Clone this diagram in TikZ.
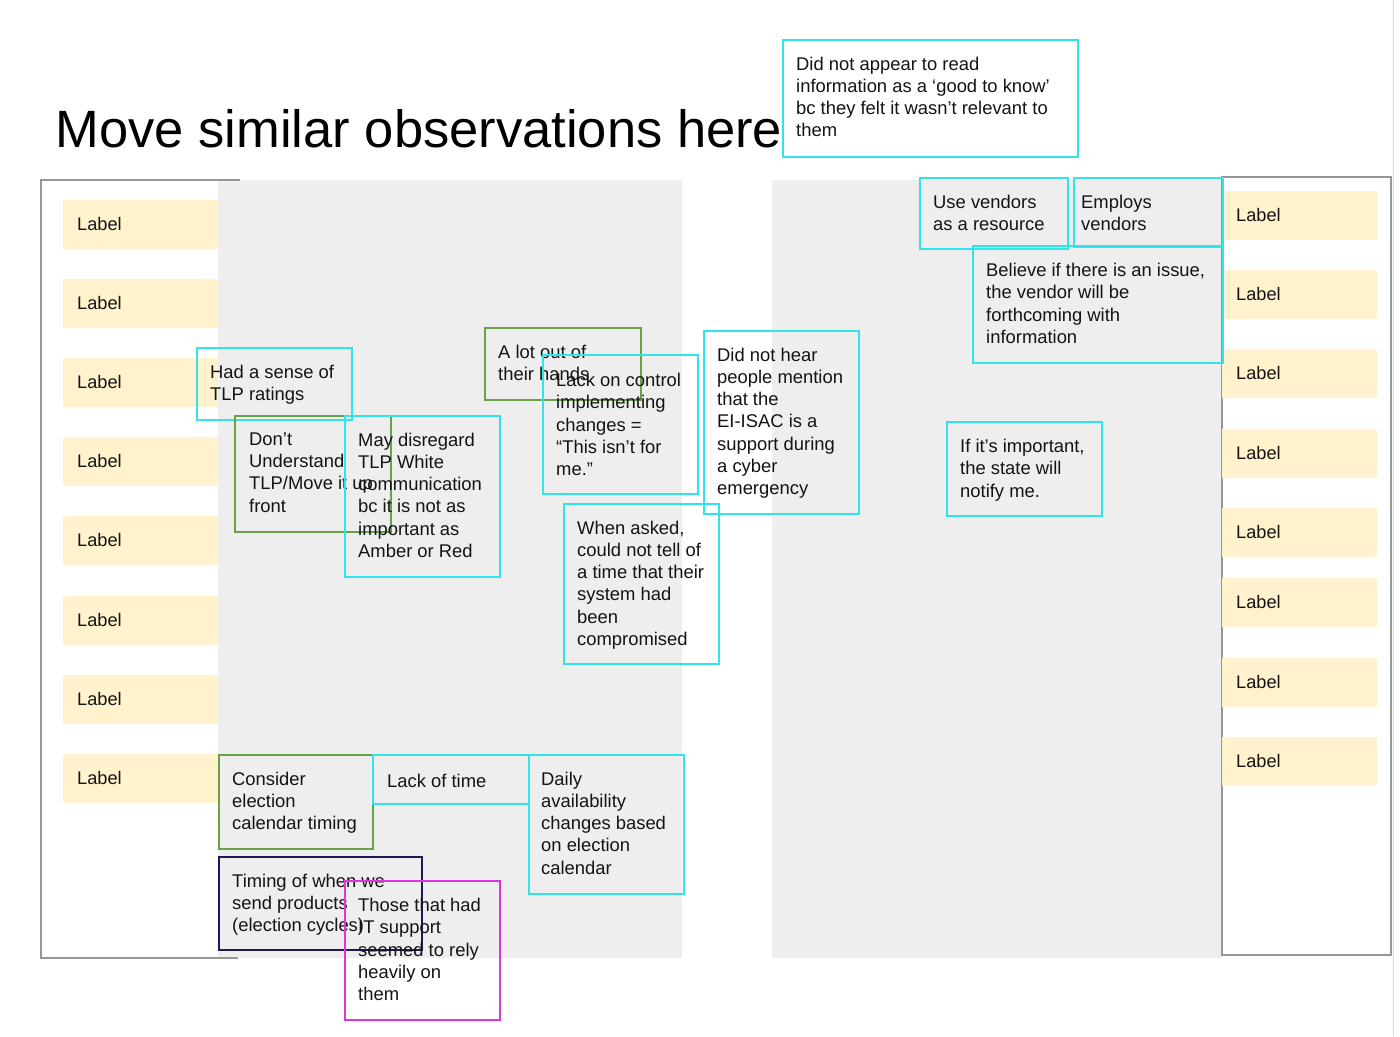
\documentclass[tikz,border=0pt]{standalone}
\usepackage{fontspec}
\setmainfont{Liberation Sans}
\usetikzlibrary{calc}
\definecolor{cyanc}{RGB}{48,228,234}
\definecolor{greenc}{RGB}{106,160,72}
\definecolor{navyc}{RGB}{36,22,84}
\definecolor{magc}{RGB}{222,52,222}
\definecolor{labelc}{RGB}{255,242,204}
\definecolor{panelc}{RGB}{238,238,238}
\definecolor{framec}{RGB}{150,150,150}
\definecolor{edgec}{RGB}{215,215,215}
\definecolor{textc}{RGB}{20,20,20}
\begin{document}
\begin{tikzpicture}[x=1pt,y=-1pt,
  panel/.style={fill=panelc, draw=none},
  framebox/.style={draw=framec, line width=1.5pt},
  notebox/.style={draw, line width=2pt, inner sep=0pt, anchor=north west},
  notetext/.style={anchor=north west, inner sep=0pt, align=left,
    font=\fontsize{18.4}{22.3}\selectfont, text=textc, execute at begin node=\strut},
  lbl/.style={fill=labelc, anchor=north west, minimum width=155pt, minimum height=49pt,
    inner xsep=14pt, inner ysep=0pt, text width=127pt, align=left,
    font=\fontsize{18.2}{22}\selectfont, text=textc}]
\useasboundingbox[fill=white] (0,0) rectangle (1400,1036);

% page edge
\draw[edgec, line width=1.5pt] (1393.5,0) -- (1393.5,1036);

% gray panels
\fill[panel] (218,180) rectangle (682,958);
\fill[panel] (772,180) rectangle (1222,958);

% frames
\draw[framebox] (240,180) -- (41,180) -- (41,958) -- (238,958);
\draw[framebox] (1222,177) rectangle (1391,955);

% title
\node[anchor=base west, inner sep=0pt, font=\fontsize{52.5}{60}\selectfont, text=black] (title) at (55.5,147) {Move similar observations here};

% left labels
\node[lbl] (L1) at (63,199.5) {Label};
\node[lbl] (L2) at (63,278.5) {Label};
\node[lbl] (L3) at (63,357.5) {Label};
\node[lbl] (L4) at (63,436.5) {Label};
\node[lbl] (L5) at (63,515.5) {Label};
\node[lbl] (L6) at (63,595.5) {Label};
\node[lbl] (L7) at (63,674.5) {Label};
\node[lbl] (L8) at (63,753.5) {Label};

% right labels
\node[lbl] (R1) at (1222,190.5) {Label};
\node[lbl] (R2) at (1222,269.5) {Label};
\node[lbl] (R3) at (1222,348.5) {Label};
\node[lbl] (R4) at (1222,428.5) {Label};
\node[lbl] (R5) at (1222,507.5) {Label};
\node[lbl] (R6) at (1222,577.5) {Label};
\node[lbl] (R7) at (1222,657.5) {Label};
\node[lbl] (R8) at (1222,736.5) {Label};

% sticky notes
\node[notebox, draw=cyanc, minimum width=295pt, minimum height=117pt] (dna) at (782,39) {};
\node[notetext] (dnat) at ($(dna.north west)+(14,17.5)$) {Did not appear to read\\information as a ‘good to know’\\bc they felt it wasn’t relevant to\\them};

\node[notebox, draw=cyanc, minimum width=148pt, minimum height=71pt] (usev) at (919,177) {};
\node[notetext] (usevt) at ($(usev.north west)+(14,17.5)$) {Use vendors\\as a resource};

\node[notebox, draw=cyanc, minimum width=149pt, minimum height=69pt] (empv) at (1073,177) {};
\node[notetext] (empvt) at ($(empv.north west)+(8,17.5)$) {Employs\\vendors};

\node[notebox, draw=cyanc, minimum width=250pt, minimum height=117pt] (bel) at (972,245) {};
\node[notetext] (belt) at ($(bel.north west)+(14,18)$) {Believe if there is an issue,\\the vendor will be\\forthcoming with\\information};

\node[notebox, draw=cyanc, minimum width=155pt, minimum height=183pt] (hear) at (703,330) {};
\node[notetext] (heart) at ($(hear.north west)+(14,17.5)$) {Did not hear\\people mention\\that the\\EI-ISAC is a\\support during\\a cyber\\emergency};

\node[notebox, draw=cyanc, minimum width=155pt, minimum height=94pt] (state) at (946,421) {};
\node[notetext] (statet) at ($(state.north west)+(14,18)$) {If it’s important,\\the state will\\notify me.};

\node[notebox, draw=cyanc, minimum width=155pt, minimum height=72pt] (sense) at (196,347) {};
\node[notetext] (senset) at ($(sense.north west)+(14,18)$) {Had a sense of\\TLP ratings};

\node[notebox, draw=greenc, minimum width=156pt, minimum height=116pt] (dont) at (234,415) {};
\node[notetext] (dontt) at ($(dont.north west)+(15,17.5)$) {Don’t\\Understand\\TLP/Move it up\\front};

\node[notebox, draw=cyanc, minimum width=155pt, minimum height=161pt] (may) at (344,415) {};
\node[notetext] (mayt) at ($(may.north west)+(14,17.5)$) {May disregard\\TLP White\\communication\\bc it is not as\\important as\\Amber or Red};

\node[notebox, draw=greenc, minimum width=156pt, minimum height=72pt] (lot) at (484,327) {};
\node[notetext] (lott) at ($(lot.north west)+(14,18)$) {A lot out of\\their hands};

\node[notebox, draw=cyanc, minimum width=155pt, minimum height=139pt] (lack) at (542,354) {};
\node[notetext] (lackt) at ($(lack.north west)+(14,19)$) {Lack on control\\implementing\\changes =\\“This isn’t for\\me.”};

\node[notebox, draw=cyanc, minimum width=155pt, minimum height=160pt] (asked) at (563,503) {};
\node[notetext] (askedt) at ($(asked.north west)+(14,17.5)$) {When asked,\\could not tell of\\a time that their\\system had\\been\\compromised};

\node[notebox, draw=greenc, minimum width=154pt, minimum height=94pt] (cons) at (218,754) {};
\node[notetext] (const) at ($(cons.north west)+(14,17.5)$) {Consider\\election\\calendar timing};

\node[notebox, draw=cyanc, minimum width=156pt, minimum height=49pt] (ltime) at (372,754) {};
\node[notetext] (ltimet) at ($(ltime.north west)+(15,17.5)$) {Lack of time};

\node[notebox, draw=cyanc, minimum width=155pt, minimum height=139pt] (daily) at (528,754) {};
\node[notetext] (dailyt) at ($(daily.north west)+(13,17.5)$) {Daily\\availability\\changes based\\on election\\calendar};

\node[notebox, draw=navyc, minimum width=203pt, minimum height=93pt] (timing) at (218,856) {};
\node[notetext] (timingt) at ($(timing.north west)+(14,17.5)$) {Timing of when we\\send products\\(election cycles)};

\node[notebox, draw=magc, minimum width=155pt, minimum height=139pt] (those) at (344,880) {};
\node[notetext] (thoset) at ($(those.north west)+(14,18)$) {Those that had\\IT support\\seemed to rely\\heavily on\\them};
\end{tikzpicture}
\end{document}
